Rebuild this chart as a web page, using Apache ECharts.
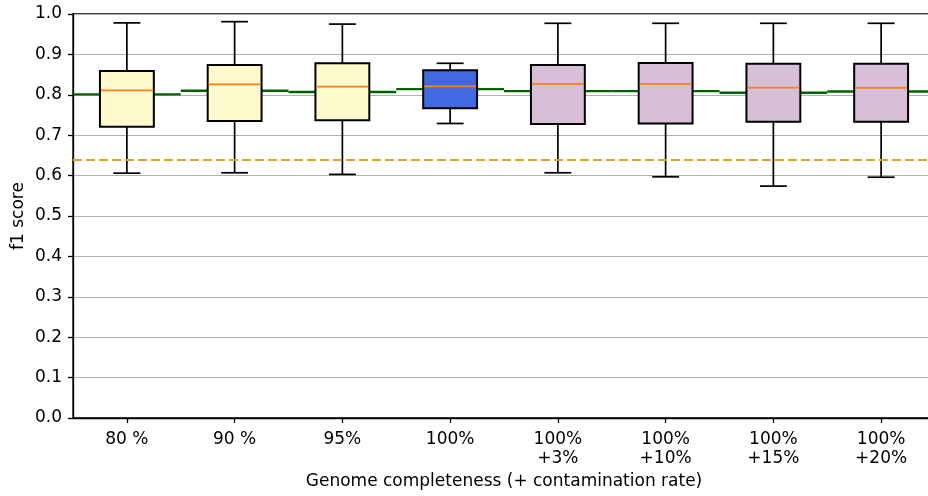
<!DOCTYPE html>
<html>
<head>
<meta charset="utf-8">
<script src="https://cdn.jsdelivr.net/npm/echarts@6/dist/echarts.min.js"></script>
<style>
  html, body { margin: 0; padding: 0; background: #ffffff; }
  #chart { width: 928px; height: 496px; }
</style>
</head>
<body>
<div id="chart"></div>
<script>
// Genome completeness levels (with added contamination for the last four)
const categories = ['80 %', '90 %', '95%', '100%', '100%\n+3%', '100%\n+10%', '100%\n+15%', '100%\n+20%'];

// Box statistics of the f1 score per level
const whiskerLow  = [0.606, 0.607, 0.603, 0.729, 0.607, 0.597, 0.574, 0.596];
const quartile1   = [0.721, 0.735, 0.737, 0.767, 0.728, 0.729, 0.733, 0.733];
const medianScore = [0.811, 0.826, 0.820, 0.821, 0.827, 0.827, 0.818, 0.817];
const quartile3   = [0.859, 0.874, 0.878, 0.861, 0.874, 0.879, 0.877, 0.877];
const whiskerHigh = [0.978, 0.981, 0.975, 0.878, 0.977, 0.977, 0.977, 0.977];

// Mean f1 score per level (drawn as a step across each category)
const meanScore = [0.801, 0.810, 0.807, 0.814, 0.809, 0.809, 0.805, 0.808];

// Reference f1 score (dashed horizontal line)
const referenceScore = 0.636;

// Box fill per group: incomplete, complete, contaminated
const boxFill = ['#FFFACD', '#FFFACD', '#FFFACD', '#4169E1', '#D8BFD8', '#D8BFD8', '#D8BFD8', '#D8BFD8'];

const FONT = 'DejaVu Sans';
const FONT_SIZE = 17;

const boxData = categories.map((c, i) => [i, whiskerLow[i], quartile1[i], medianScore[i], quartile3[i], whiskerHigh[i]]);
const meanData = categories.map((c, i) => [i, meanScore[i]]);

function renderBox(params, api) {
  const i = api.value(0);
  const lo = api.coord([i, api.value(1)]);
  const b1 = api.coord([i, api.value(2)]);
  const md = api.coord([i, api.value(3)]);
  const b3 = api.coord([i, api.value(4)]);
  const hi = api.coord([i, api.value(5)]);
  const band = api.size([1, 0])[0];
  const w = band * 0.5;
  const cap = w * 0.5;
  const x = lo[0];
  const black = { stroke: '#000000', lineWidth: 1.7 };
  return {
    type: 'group',
    children: [
      { type: 'line', shape: { x1: x, y1: hi[1], x2: x, y2: b3[1] }, style: black },
      { type: 'line', shape: { x1: x, y1: b1[1], x2: x, y2: lo[1] }, style: black },
      { type: 'line', shape: { x1: x - cap / 2, y1: hi[1], x2: x + cap / 2, y2: hi[1] }, style: black },
      { type: 'line', shape: { x1: x - cap / 2, y1: lo[1], x2: x + cap / 2, y2: lo[1] }, style: black },
      { type: 'rect', shape: { x: x - w / 2, y: b3[1], width: w, height: b1[1] - b3[1] },
        style: { fill: boxFill[i], stroke: '#000000', lineWidth: 2 } },
      { type: 'line', shape: { x1: x - w / 2 + 1, y1: md[1], x2: x + w / 2 - 1, y2: md[1] },
        style: { stroke: '#FF7F0E', lineWidth: 1.8 } }
    ]
  };
}

function renderMean(params, api) {
  const i = api.value(0);
  const p = api.coord([i, api.value(1)]);
  const band = api.size([1, 0])[0];
  return {
    type: 'line',
    shape: { x1: p[0] - band / 2, y1: p[1], x2: p[0] + band / 2, y2: p[1] },
    style: { stroke: '#006400', lineWidth: 2.4 }
  };
}

const chart = echarts.init(document.getElementById('chart'), null, { renderer: 'canvas' });
chart.setOption({
  animation: false,
  backgroundColor: '#ffffff',
  textStyle: { fontFamily: FONT },
  grid: {
    left: 73, top: 14, width: 862, height: 404,
    outerBoundsMode: 'none',
    containLabel: false,
    show: true, borderColor: '#000000', borderWidth: 1.3, backgroundColor: 'transparent'
  },
  xAxis: {
    type: 'category',
    data: categories,
    boundaryGap: true,
    name: 'Genome completeness (+ contamination rate)',
    nameLocation: 'middle',
    nameGap: 55,
    nameMoveOverlap: false,
    nameTextStyle: { color: '#000000', fontSize: FONT_SIZE, fontFamily: FONT },
    axisLine: { show: true, lineStyle: { color: '#000000', width: 1.3 } },
    axisTick: { show: true, alignWithLabel: true, length: 5, lineStyle: { color: '#000000', width: 1.3 } },
    axisLabel: { color: '#000000', fontSize: FONT_SIZE, fontFamily: FONT, lineHeight: 19, margin: 12, interval: 0 },
    splitLine: { show: false }
  },
  yAxis: {
    type: 'value',
    min: 0, max: 1, interval: 0.1,
    name: 'f1 score',
    nameLocation: 'middle',
    nameRotate: 90,
    nameGap: 46,
    nameMoveOverlap: false,
    nameTextStyle: { color: '#000000', fontSize: FONT_SIZE, fontFamily: FONT },
    axisLine: { show: true, lineStyle: { color: '#000000', width: 1.3 } },
    axisTick: { show: true, length: 5, lineStyle: { color: '#000000', width: 1.3 } },
    axisLabel: { color: '#000000', fontSize: FONT_SIZE, fontFamily: FONT, margin: 11,
      formatter: v => v.toFixed(1) },
    splitLine: { show: true, lineStyle: { color: '#B0B0B0', width: 1.1 } }
  },
  series: [
    {
      type: 'custom',
      name: 'mean',
      renderItem: renderMean,
      data: meanData,
      encode: { x: 0, y: 1 },
      clip: false,
      silent: true,
      z: 2,
      markLine: {
        silent: true,
        symbol: 'none',
        label: { show: false },
        lineStyle: { color: '#DAA520', width: 2.2, type: [9, 4] },
        data: [{ yAxis: referenceScore }]
      }
    },
    {
      type: 'custom',
      name: 'f1 score',
      renderItem: renderBox,
      data: boxData,
      encode: { x: 0, y: [1, 2, 3, 4, 5] },
      silent: true,
      z: 3
    }
  ]
});
</script>
</body>
</html>
